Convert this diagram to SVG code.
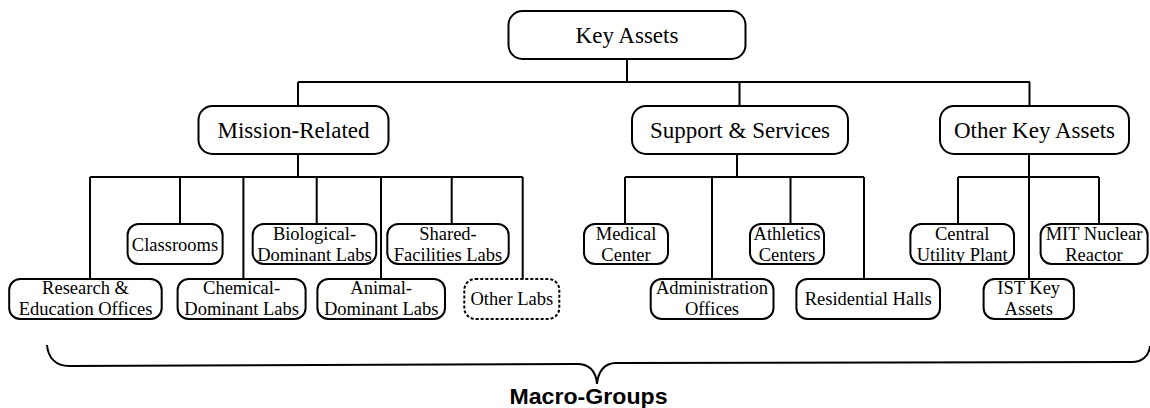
<svg xmlns="http://www.w3.org/2000/svg" width="1150" height="408" viewBox="0 0 1150 408">
<style>
.box{fill:#fff;stroke:#000;stroke-width:2}
.dash{fill:#fff;stroke:#000;stroke-width:2;stroke-dasharray:3 2}
.t1{font-family:"Liberation Serif","Times New Roman",serif;font-size:23px;text-anchor:middle;fill:#000}
.t2{font-family:"Liberation Serif","Times New Roman",serif;font-size:18.5px;text-anchor:middle;fill:#000}
.ln{fill:none;stroke:#000;stroke-width:2}
.lbl{font-family:"Liberation Sans",Arial,sans-serif;font-weight:bold;font-size:22px;text-anchor:middle;fill:#000}
</style>
<rect width="1150" height="408" fill="#fff"/>
<g id="connectors" class="ln">
<path d="M627,59V82M298,82H1030M298,82V106M739.5,82V106M1029.5,82V106"/>
<path d="M298,154V177M90,177H522.7M90,177V279M180,177V224M243.4,177V279M316.7,177V224M381,177V279M451.7,177V224M522.7,177V279"/>
<path d="M737,154V177M625,177H864M625,177V224M712,177V279M790.5,177V224M864,177V279"/>
<path d="M1029,154V177M958,177H1099M958,177V224M1029,177V279M1099,177V224"/>
</g>
<g id="key-assets"><rect class="box" x="508.5" y="11" width="237" height="48" rx="14"/><text class="t1" x="627" y="42.5">Key Assets</text></g>
<g id="mission-related"><rect class="box" x="198.5" y="106" width="190" height="48" rx="14"/><text class="t1" x="293.5" y="137.5">Mission-Related</text></g>
<g id="support-services"><rect class="box" x="632" y="106" width="216" height="48" rx="14"/><text class="t1" x="740" y="137.5">Support &amp; Services</text></g>
<g id="other-key-assets"><rect class="box" x="940" y="106" width="189" height="48" rx="14"/><text class="t1" x="1034.5" y="137.5">Other Key Assets</text></g>

<g id="classrooms"><rect class="box" x="127.6" y="224" width="95" height="40" rx="11"/><text class="t2" x="175" y="250.5">Classrooms</text></g>
<g id="biological"><rect class="box" x="252.7" y="224" width="123.5" height="40" rx="11"/><text class="t2" x="314.5" y="239.5">Biological-</text><text class="t2" x="314.5" y="260.5">Dominant Labs</text></g>
<g id="shared"><rect class="box" x="387.3" y="224" width="121.4" height="40" rx="11"/><text class="t2" x="448" y="239.5">Shared-</text><text class="t2" x="448" y="260.5">Facilities Labs</text></g>
<g id="research"><rect class="box" x="9.2" y="279" width="152.5" height="40" rx="11"/><text class="t2" x="85.5" y="294">Research &amp;</text><text class="t2" x="85.5" y="315">Education Offices</text></g>
<g id="chemical"><rect class="box" x="177.6" y="279" width="128" height="40" rx="11"/><text class="t2" x="241.6" y="294">Chemical-</text><text class="t2" x="241.6" y="315">Dominant Labs</text></g>
<g id="animal"><rect class="box" x="317.4" y="279" width="127.6" height="40" rx="11"/><text class="t2" x="381.2" y="294">Animal-</text><text class="t2" x="381.2" y="315">Dominant Labs</text></g>
<g id="other-labs"><rect class="dash" x="464.3" y="279" width="95" height="40" rx="11"/><text class="t2" x="511.8" y="305">Other Labs</text></g>

<g id="medical"><rect class="box" x="584" y="224" width="84" height="40" rx="11"/><text class="t2" x="626" y="239.5">Medical</text><text class="t2" x="626" y="260.5">Center</text></g>
<g id="athletics"><rect class="box" x="750" y="224" width="74" height="40" rx="11"/><text class="t2" x="787" y="239.5">Athletics</text><text class="t2" x="787" y="260.5">Centers</text></g>
<g id="administration"><rect class="box" x="650.7" y="279" width="122.8" height="40" rx="11"/><text class="t2" x="712" y="294">Administration</text><text class="t2" x="712" y="315">Offices</text></g>
<g id="residential"><rect class="box" x="796.4" y="279" width="143.6" height="40" rx="11"/><text class="t2" x="868.2" y="305">Residential Halls</text></g>
<g id="central-utility"><rect class="box" x="910.4" y="224" width="103.6" height="40" rx="11"/><text class="t2" x="962.2" y="239.5">Central</text><text class="t2" x="962.2" y="260.5">Utility Plant</text></g>
<g id="mit-nuclear"><rect class="box" x="1040.6" y="224" width="107" height="40" rx="11"/><text class="t2" x="1094" y="239.5">MIT Nuclear</text><text class="t2" x="1094" y="260.5">Reactor</text></g>
<g id="ist-key"><rect class="box" x="983.6" y="279" width="90.3" height="40" rx="11"/><text class="t2" x="1028.7" y="294">IST Key</text><text class="t2" x="1028.7" y="315">Assets</text></g>

<g id="brace">
<path class="ln" d="M47,345C48,358 56,366 69,366L577,364C590,364 596,372 597,384C598,372 604,363 616,363L1132,362C1142,362 1149,356 1150,346"/>
<text class="lbl" x="588.5" y="404" textLength="158" lengthAdjust="spacingAndGlyphs">Macro-Groups</text>
</g>
</svg>
